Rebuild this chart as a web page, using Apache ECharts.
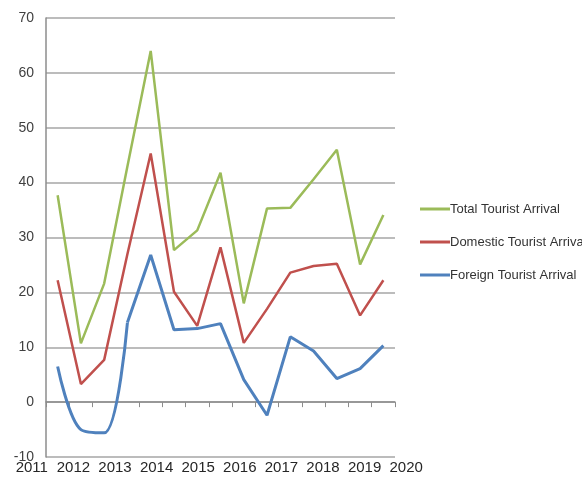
<!DOCTYPE html>
<html>
<head>
<meta charset="utf-8">
<script src="https://cdn.jsdelivr.net/npm/echarts@6/dist/echarts.min.js"></script>
<style>
html,body{margin:0;padding:0;background:#fff;}
#chart{width:582px;height:480px;}
</style>
</head>
<body>
<div id="chart"></div>
<script>
// 15 observation points across the period
const points = ['1','2','3','4','5','6','7','8','9','10','11','12','13','14','15'];
const years = ['2011','2012','2013','2014','2015','2016','2017','2018','2019','2020'];
const totalArrival =    [37.7, 10.7, 21.6, 43.0, 64.0, 27.7, 31.3, 41.8, 18.0, 35.3, 35.4, 40.6, 46.0, 25.1, 34.1];
const domesticArrival = [22.2,  3.3,  7.7, 27.0, 45.3, 20.1, 13.9, 28.2, 10.8, 17.0, 23.6, 24.8, 25.2, 15.8, 22.2];
const foreignArrival =  [ 6.5, -5.0, -5.6, 14.5, 26.8, 13.2, 13.4, 14.3,  4.1, -2.4, 11.9,  9.3,  4.3,  6.1, 10.3];
const yTicks = {min: -10, max: 70, interval: 10};

const FONT = '"Liberation Sans", Arial, sans-serif';
const cGreen = '#9BBB59', cRed = '#C0504D', cBlue = '#4F81BD';

const chart = echarts.init(document.getElementById('chart'), null, {renderer: 'canvas'});
chart.setOption({
  backgroundColor: '#fff',
  animation: false,
  grid: [
    {left: 46, top: 18, width: 349, height: 439, containLabel: false},
    {left: 11, top: 457, width: 416, height: 1, containLabel: false}
  ],
  legend: {
    orient: 'vertical',
    left: 415,
    top: 196,
    itemWidth: 30,
    itemHeight: 3,
    itemGap: 17,
    icon: 'rect',
    data: ['Total Tourist Arrival', 'Domestic Tourist Arrival', 'Foreign Tourist Arrival'],
    textStyle: {fontFamily: FONT, fontSize: 13, color: '#333', lineHeight: 16, padding: [0,0,0,-5]}
  },
  xAxis: [
    {
      type: 'category', gridIndex: 0, data: points, boundaryGap: true,
      axisLine: {onZero: true, lineStyle: {color: '#8c8c8c', width: 1.5}},
      axisTick: {show: true, length: 5, lineStyle: {color: '#8c8c8c'}},
      axisLabel: {show: false},
      splitLine: {show: false}
    },
    {
      type: 'category', gridIndex: 1, data: years, boundaryGap: true,
      axisLine: {show: false}, axisTick: {show: false},
      axisLabel: {show: true, interval: 0, margin: 2, fontFamily: FONT, fontSize: 15, color: '#262626'}
    }
  ],
  yAxis: [
    {
      type: 'value', gridIndex: 0, min: yTicks.min, max: yTicks.max, interval: yTicks.interval,
      axisLine: {show: true, lineStyle: {color: '#8c8c8c', width: 1.5}},
      axisTick: {show: false},
      axisLabel: {margin: 12, fontFamily: FONT, fontSize: 14, color: '#404040'},
      splitLine: {show: true, lineStyle: {color: '#a6a6a6', width: 1.5}}
    },
    {
      type: 'value', gridIndex: 1, show: false
    }
  ],
  series: [
    {
      name: 'Total Tourist Arrival', type: 'line', data: totalArrival,
      xAxisIndex: 0, yAxisIndex: 0,
      symbol: 'none', lineStyle: {color: cGreen, width: 2.5}, itemStyle: {color: cGreen}
    },
    {
      name: 'Domestic Tourist Arrival', type: 'line', data: domesticArrival,
      xAxisIndex: 0, yAxisIndex: 0,
      symbol: 'none', lineStyle: {color: cRed, width: 2.5}, itemStyle: {color: cRed}
    },
    {
      name: 'Foreign Tourist Arrival', type: 'line',
      data: foreignArrival.map((v, i) => i <= 3 ? v : null),
      xAxisIndex: 0, yAxisIndex: 0, smooth: 0.35,
      symbol: 'none', lineStyle: {color: cBlue, width: 3}, itemStyle: {color: cBlue}
    },
    {
      name: 'Foreign Tourist Arrival', type: 'line',
      data: foreignArrival.map((v, i) => i >= 3 ? v : null),
      xAxisIndex: 0, yAxisIndex: 0,
      symbol: 'none', lineStyle: {color: cBlue, width: 3}, itemStyle: {color: cBlue}
    }
  ]
});
</script>
</body>
</html>
